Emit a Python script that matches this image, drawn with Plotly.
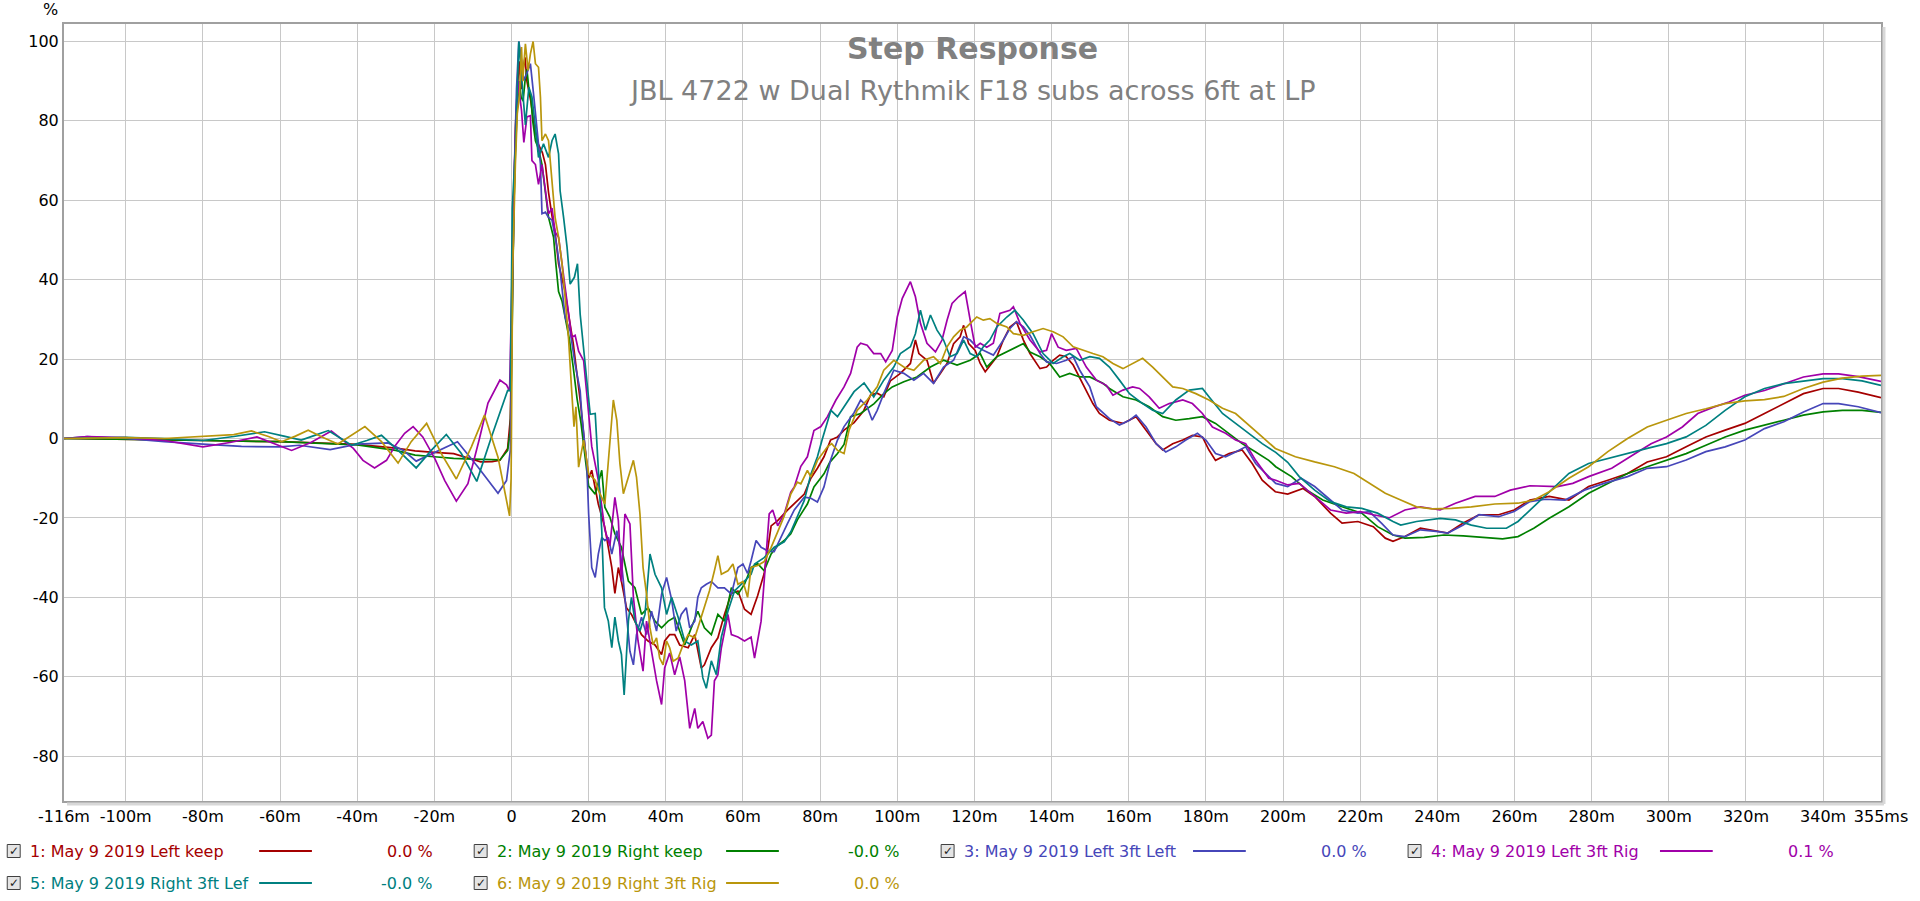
import plotly.graph_objects as go

# ---------------- data ----------------
T_RANGE = [-116, 355]
Y_RANGE = [-91.3, 104.4]

series_names = [
    "1: May 9 2019 Left keep",
    "2: May 9 2019 Right keep",
    "3: May 9 2019 Left 3ft Left",
    "4: May 9 2019 Left 3ft Rig",
    "5: May 9 2019 Right 3ft Lef",
    "6: May 9 2019 Right 3ft Rig",
]
series_colors = ["#a50000", "#008000", "#4646b9", "#a000a8", "#008080", "#b9960c"]
legend_values = ["0.0 %", "-0.0 %", "0.0 %", "0.1 %", "-0.0 %", "0.0 %"]

x_tick_vals = [-116, -100, -80, -60, -40, -20, 0, 20, 40, 60, 80, 100, 120, 140, 160,
               180, 200, 220, 240, 260, 280, 300, 320, 340, 355]
x_tick_text = ["-116m", "-100m", "-80m", "-60m", "-40m", "-20m", "0", "20m", "40m", "60m",
               "80m", "100m", "120m", "140m", "160m", "180m", "200m", "220m", "240m", "260m",
               "280m", "300m", "320m", "340m", "355ms"]
y_tick_vals = [-80, -60, -40, -20, 0, 20, 40, 60, 80, 100]
y_tick_text = ["-80", "-60", "-40", "-20", "0", "20", "40", "60", "80", "100"]

# (time ms, step %)
red_pts = [(-116,0),(-100,-0.3),(-80,-0.5),(-60,-0.8),(-50,-1.1),(-40,-1.5),(-30,-2.4),(-25,-3.1),(-20,-3.5),(-15,-3.8),(-10,-5.3),(-8,-5.9),(-5,-5.8),(-3,-5.5),(-1,-2.5),(-0.3,5),(0.2,35),(0.6,62),(1,78),(1.5,88),(2,95),(2.5,88),(3,93),(3.5,96),(4,90),(5,85),(6,78),(7,74),(8,72),(8.8,69),(9.6,62),(10.5,56),(11.3,52),(12.2,44),(13.1,40),(13.9,37),(15,30),(16,24),(17,16),(18,8),(19,-2),(20,-10),(20.8,-8),(22.5,-16.5),(24.2,-22.4),(26,-32.5),(26.8,-39),(27.7,-32.5),(28.5,-36),(29.8,-42.6),(31.1,-44.3),(32,-46),(33.7,-49.4),(35.4,-51),(37.2,-52),(38.9,-54.4),(39.7,-51),(41,-49.4),(42.3,-49.4),(43.6,-52),(45.8,-52.7),(47.5,-49.4),(49.2,-57.8),(50,-57),(51.8,-52.7),(53.5,-50.2),(55.2,-44.3),(57,-39),(58.7,-38.4),(60.4,-43),(62.1,-44.3),(63.8,-39.6),(65.5,-34),(67.3,-22),(69,-20.7),(71.6,-18),(74.1,-15.6),(75.9,-14),(77.6,-10),(79.3,-7.5),(81,-4.6),(82.7,-0.4),(84.5,0.4),(86.2,2.1),(88.8,4),(91.3,7),(93.1,11),(94.8,11.4),(96.5,10.5),(98.2,14.5),(100.8,16.4),(103.4,18.9),(104.7,24.8),(105.6,21.4),(107.7,19.7),(109.4,13.9),(111.2,16.4),(112.9,18.9),(114.6,23.9),(116.3,25.6),(117.2,28.5),(118.5,23.9),(120.2,22.2),(121.5,18.9),(122.8,16.8),(124.5,18.9),(125.8,20.6),(127.5,24.8),(129.2,28.1),(130.9,29.4),(132.7,24.8),(134.4,21.4),(137,17.6),(138.7,18),(140.4,19.7),(142.1,21),(143.8,20.6),(145.6,18.5),(148.1,13.9),(150.7,8.8),(152.4,6.3),(155,4.6),(158.5,3.8),(161.9,5.5),(164.5,2.1),(167.1,-1.3),(168.8,-2.9),(171.4,-1.3),(174,-0.4),(176.5,0.8),(179.1,0.4),(180.8,-2.9),(182.5,-5.5),(186,-3.8),(189.4,-2.9),(192,-6.3),(194.6,-10.5),(198,-13.4),(201.2,-14),(205.2,-12.6),(208.2,-14.6),(212.3,-18.8),(215.3,-21.3),(219.4,-20.9),(223.4,-22.2),(226.5,-25.1),(228.5,-25.9),(231.6,-24.7),(235.6,-22.6),(239.7,-23.4),(242.7,-23.8),(246.7,-21.3),(250.8,-19.2),(255.9,-19.2),(259.9,-18),(264,-15.5),(269,-14.6),(274.1,-15.5),(279.2,-12.1),(284.2,-10.5),(289.3,-8.8),(294.4,-5.9),(299.4,-4.6),(304.5,-2.1),(309.6,0.4),(314.6,2.1),(319.7,3.8),(324.8,6.3),(329.8,8.8),(334.9,11.3),(340,12.6),(344,12.6),(349.1,11.7),(355,10.3)]

green_pts = [(-116,0),(-100,-0.3),(-80,-0.5),(-60,-0.8),(-50,-1.2),(-40,-1.6),(-30,-3),(-25,-4.2),(-20,-4.6),(-15,-5),(-10,-5.2),(-5,-5.4),(-3,-5.4),(-1,-3),(-0.3,2),(0.2,30),(0.6,58),(1,72),(1.5,84),(2,90),(2.5,86),(3,85),(3.5,90),(4,93),(4.5,88),(5,86),(5.5,80),(6.2,75),(7,73),(7.9,69),(8.8,62),(9.6,55.7),(10.3,53),(10.9,50.7),(11.5,44),(12.2,37),(13.1,34.6),(14,30),(15,25),(16,18),(17,10),(18,4),(19,-4),(20,-12),(21.7,-14),(23.4,-8),(24.2,-17.3),(25.5,-19.8),(26.8,-24),(28.5,-27.4),(30.3,-35.9),(32,-37.6),(33.7,-44.3),(35.4,-42.6),(37.2,-46),(38.9,-47.7),(40.6,-46),(42.3,-45),(43.6,-48.5),(44.9,-52),(46.6,-47.7),(48.3,-43.5),(50,-47.7),(51.8,-49.4),(53.5,-44.3),(55.2,-46),(57,-37.6),(58.7,-39.2),(60.4,-36.7),(62.1,-32.5),(63.8,-31.5),(65.5,-33.3),(67.3,-29.1),(69,-27),(70.7,-25.7),(72.4,-24),(74.1,-20.5),(76.7,-16.5),(78.4,-12.2),(81,-8.9),(82.5,-6),(84.5,-3.8),(86.2,-1.5),(87.9,5.5),(90.5,6.3),(94,8.8),(96.5,11.3),(98.7,13),(101.7,14.3),(105.1,15.5),(108.6,18),(112,19.7),(115.5,18.5),(118.9,19.7),(121.5,21.4),(123.2,18),(125.8,20.6),(128.4,21.8),(130.9,23.1),(132.7,23.9),(134.4,21.8),(137,20.6),(139.5,18.9),(142.1,15.5),(144.7,16.4),(147.3,15.5),(149.9,15.5),(153.3,13.9),(155,12.6),(158.5,10.5),(161.9,9.7),(165.3,8),(168.8,5.5),(172.2,4.6),(175.7,5),(179.1,5.5),(182.5,3.8),(186,1.3),(189.4,-1.3),(192.9,-3.4),(196.3,-5.5),(198.1,-7.1),(202.2,-9.6),(206.2,-13),(210.3,-15.5),(215.3,-17.2),(220.4,-18.8),(224.5,-22.2),(228.5,-24.3),(231.6,-25.1),(236.6,-24.9),(241.7,-24.3),(246.7,-24.5),(251.8,-24.9),(256.9,-25.3),(260.9,-24.7),(265,-22.6),(269,-20.1),(274.1,-17.2),(279.2,-13.8),(284.2,-11.3),(289.3,-8.8),(294.4,-7.1),(299.4,-5.4),(304.5,-3.8),(309.6,-1.7),(314.6,0.4),(319.7,2.1),(324.8,3.3),(329.8,4.6),(334.9,5.9),(340,6.7),(345,7.1),(350.1,7.1),(355,6.6)]

blue_pts = [(-116,0),(-110,0.5),(-100,0),(-90,-0.8),(-80,-1.4),(-70,-2),(-60,-2.1),(-55,-1.7),(-47,-2.8),(-40,-1.4),(-32,-1.1),(-28,-3),(-24.7,-5.7),(-19,-3),(-14,-0.8),(-8.7,-7.2),(-3.5,-13.8),(-1.3,-10.6),(-0.3,-3),(0.3,40),(0.8,70),(1.3,88),(1.9,100),(2.5,96),(3.2,90.2),(4,92),(4.9,94.4),(5.8,86),(6.6,77.6),(7.5,69.2),(7.9,56.6),(8.8,57),(9.6,55.7),(10.5,55),(11.8,48.2),(12.6,42.3),(13.9,30.5),(15.2,27.1),(16.5,18.7),(17.8,12),(18.2,6.3),(19.5,-6.3),(20,-19),(20.8,-32.5),(21.7,-35),(22.5,-29.1),(23.4,-24.9),(24.2,-25.7),(25.1,-24.9),(26,-29.1),(27.3,-23.2),(28.1,-27.4),(29,-35.9),(29.8,-44.3),(30.7,-53.6),(31.6,-57),(32.4,-49.4),(33.7,-45),(35,-49.4),(36.3,-43.5),(37.6,-48.5),(38.9,-39.2),(40.2,-35),(41.5,-40.5),(42.7,-48.5),(44,-44.3),(45.3,-42.6),(46.2,-47.7),(47.5,-46),(48.3,-40),(49.2,-37.6),(50.5,-36.7),(51.8,-36),(53.5,-37.6),(55.2,-37.6),(57,-39.2),(58.7,-32.5),(60,-31.6),(61.2,-34),(62.1,-30.8),(63.4,-25.7),(64.7,-27.4),(66.4,-28.3),(68.1,-28.5),(69.8,-24.9),(71.5,-21.5),(73.3,-18),(75.9,-14.8),(77.5,-15),(79.3,-16),(81,-12.2),(82.7,-5.5),(84.5,-0.4),(86.2,3),(88.8,6.5),(90.5,9.7),(92.2,8),(93.5,4.6),(94.8,7.1),(96.5,11.3),(99.1,17.2),(101.7,16.4),(104.3,14.7),(106.8,16.4),(109.4,13.9),(112,18),(114.6,19.7),(117.2,25.6),(118.9,24.8),(120.6,23.1),(122.3,22.2),(124.9,21),(127.5,24.8),(129.2,27.7),(130.9,29.4),(132.7,28.1),(134.4,26),(137,21.4),(138.7,19.3),(141.3,18.9),(143.8,19.7),(145.6,20.6),(147.3,17.2),(149.9,13),(151.6,8),(155,5),(157.6,3.4),(160.2,4.6),(161.9,5.9),(164.5,2.9),(167.1,-1.3),(169.6,-3.4),(172.2,-2.1),(174.8,-0.4),(177.8,1.3),(180,-0.4),(182.5,-3.8),(185.1,-4.6),(187.7,-3.4),(190.3,-2.1),(192.9,-6.3),(196.3,-9.7),(198.1,-11.3),(201.2,-12.1),(204.7,-10),(208.2,-12.1),(212.3,-15.5),(215.3,-18),(219.4,-18.8),(222.4,-18.4),(225.5,-21.3),(228.5,-24.3),(231.6,-24.7),(235.6,-23),(239.7,-23.4),(242.7,-23.8),(246.7,-21.8),(250.8,-19.2),(255.9,-19.7),(259.9,-18.4),(264,-15.9),(268,-15.3),(273.1,-15.5),(278.1,-13),(283.2,-11.3),(289.3,-9.6),(294.4,-7.5),(299.4,-7.1),(304.5,-5.4),(309.6,-3.3),(314.6,-2.1),(319.7,-0.4),(324.8,2.5),(329.8,4.2),(334.9,6.7),(340,8.8),(344,8.8),(349.1,8),(355,6.5)]

magenta_pts = [(-116,0),(-110,0.5),(-100,0.2),(-90,-0.5),(-80,-2.1),(-73,-1),(-66,0.4),(-61,-1.5),(-57,-3),(-52,-1),(-46.7,1.9),(-41,-2.5),(-38.5,-5.5),(-35.5,-7.4),(-32.4,-5.5),(-30.3,-2),(-27.7,1.3),(-25.5,3),(-23,0.4),(-19.9,-5),(-17.3,-10.6),(-14.3,-15.8),(-11.3,-11.4),(-8.3,0),(-6.1,8.9),(-3,14.7),(-1.3,13.5),(-0.5,12),(0.3,50),(0.8,70),(1.3,82),(1.8,90),(2.3,85),(2.6,82.6),(3.2,74.6),(4,81),(4.9,81.3),(5.3,70),(6.2,69),(7,64),(7.9,69),(8.8,62),(9.6,56.6),(10.5,58),(11.3,52),(12.2,50.7),(13.1,44),(13.9,37),(14.8,30),(15.6,25.5),(16.5,26),(17.4,22),(18.7,19.6),(19.5,12),(20.8,-2),(22.5,-10.5),(24.2,-23),(25.5,-27),(26.8,-14.8),(27.7,-20.7),(28.5,-36),(29.4,-19),(30.7,-21.5),(31.6,-40),(32.8,-51),(34.1,-58.6),(35,-46),(36.3,-53.6),(37.6,-61),(38.9,-67),(39.7,-57.8),(41,-54),(42.3,-59.5),(43.6,-55),(44.9,-61),(46.2,-73),(47.5,-68),(48.3,-73),(49.6,-71.3),(50.9,-75.5),(51.8,-74.7),(52.6,-61),(53.5,-59.5),(54.4,-52.7),(56.1,-44.3),(57,-49.4),(58.7,-50),(60.4,-51),(62.1,-50),(63,-55.3),(63.8,-51),(64.7,-46),(65.5,-35.9),(66.8,-19),(67.7,-18),(68.5,-20.7),(69,-22),(70.7,-19),(72.4,-13.5),(73.3,-12.2),(75,-7),(76.7,-4.6),(78.4,2),(80.2,3),(81.9,5.5),(84.1,9.7),(86.2,13),(87.9,16.4),(89.6,23),(90.5,24),(92.2,23.5),(93.9,21.4),(95.7,21.4),(97,19.3),(98.7,22.2),(100,30.6),(101.3,35.3),(103.4,39.5),(104.7,35.7),(106,29),(107.7,24),(109.9,21.8),(111.6,24.8),(112.9,29.8),(114.2,34),(115.9,35.7),(117.6,37),(118.9,29.8),(120.2,23),(121.5,24),(123.2,23),(124.9,24),(126.6,31.5),(129.2,32.3),(130.1,33.2),(131.8,29),(134.4,24.8),(137,21.8),(138.7,22.2),(140,26.4),(141.7,23),(143.8,22.2),(146.4,22.7),(149,18),(151.6,14.7),(154.2,13.4),(155.9,10.9),(158.5,12.2),(161,13),(162.8,12.6),(165.3,10.5),(167.9,7.6),(170.5,8.8),(174,9.7),(176.5,8.8),(179.1,6.3),(181.7,2.9),(185.1,1.3),(187.7,-0.4),(190.3,-1.3),(192.9,-5.5),(196.3,-10),(198.1,-10.5),(201.2,-11.7),(204.2,-11.3),(208.2,-14.6),(212.3,-18),(216.4,-18.8),(220,-18.4),(223.4,-19.2),(227.5,-20),(231.6,-18),(235.6,-17.2),(240.7,-18),(244.7,-16.3),(249.8,-14.6),(254.9,-14.6),(258.9,-13),(264,-11.9),(271.1,-12.1),(275.1,-11.3),(279.2,-9.6),(285.2,-7.5),(291.3,-3.8),(295.4,-1.3),(299.4,0.4),(303.5,2.9),(307.5,6.3),(311.6,7.9),(315.6,9.2),(319.7,10.9),(324.8,12.1),(329.8,13.8),(334.9,15.5),(340,16.3),(344,16.3),(349.1,15.6),(355,14.4)]

teal_pts = [(-116,0),(-100,0.3),(-90,0),(-80,-0.5),(-72,0.5),(-64,1.7),(-59,0.6),(-54.5,-0.4),(-51,0.8),(-47.5,2),(-44.5,0.2),(-41.5,-1.7),(-37.5,-0.5),(-33.7,0.8),(-28.5,-3.8),(-24.7,-7.4),(-20.8,-3),(-16.9,1),(-13,-3.8),(-9,-10.8),(-5.2,0.4),(-2.6,8),(-1,12.1),(-0.3,12),(0.2,58),(1,73),(1.9,100),(2.7,90),(3.6,79),(4.5,88.5),(5.3,86),(6.2,78.4),(7,70.8),(8.3,74.2),(9.6,70.8),(10.5,75),(11.3,76.7),(12.2,71.7),(12.6,62.4),(13.5,55.7),(14.4,48.2),(15.2,38.9),(16.3,40.6),(17.1,44),(17.8,31.3),(19.1,18.7),(20.4,6.1),(21.7,6.3),(22.5,-6.3),(23.4,-23.2),(24.1,-42.6),(25.1,-46),(26,-52.7),(26.8,-45),(27.7,-51),(28.5,-54.4),(29.2,-64.6),(30.3,-46),(31.1,-40),(32,-46),(33.3,-48.5),(34.6,-44.3),(35.9,-29.1),(37.2,-34.2),(38.9,-37.6),(40.2,-44.3),(41.5,-40),(43.2,-45),(44.9,-51),(46.6,-52),(48.3,-51),(49.6,-60.3),(50.5,-62.9),(51.8,-56),(53.1,-59.5),(54.4,-50),(56.1,-43.5),(57.8,-38.4),(60.4,-35.9),(62.1,-34.2),(63,-31.6),(65.5,-30),(68.1,-27.4),(70.7,-26),(72.4,-23.5),(74.1,-19.5),(75.9,-15.6),(77.6,-9),(79.3,-4.6),(80.5,-0.4),(81.5,3),(82.8,7.1),(84.5,5.5),(86.2,8),(88.8,11.8),(91.4,14),(93.9,10.5),(96.5,14.7),(99.1,18),(100.8,21.4),(103.4,23.1),(104.7,26.4),(106,32.3),(107.3,27.3),(108.6,31.1),(110.3,27.3),(112,24.8),(113.7,20.6),(115.5,21.4),(117.2,24.8),(118.9,21.4),(120.6,20.6),(122.3,23.1),(124,24.8),(125.8,28.1),(128.4,30.6),(130.5,32.3),(132.7,29.8),(135.2,26.4),(137.8,21.4),(140.4,18.9),(143,20.6),(144.7,21.4),(147.3,19.7),(149.9,20.6),(152.4,20.2),(155,18),(157.6,14.7),(160.2,11.3),(163.6,8.8),(166.2,7.1),(168.8,6.3),(172.2,9.7),(175.7,12.2),(179.1,12.6),(180.8,10.5),(184.3,6.3),(187.7,3.8),(191.2,1.3),(194.6,-1.3),(198.1,-3.5),(201.2,-6),(204.2,-9.6),(208.2,-13),(212.3,-15.9),(216.4,-17.2),(220.4,-17.6),(224.5,-18.8),(228.5,-20.9),(230.5,-21.8),(234.6,-20.9),(240.7,-20.1),(244.7,-20.5),(248.8,-21.8),(252.8,-22.6),(257.9,-22.6),(260.9,-20.9),(265,-17.2),(269,-13.4),(274.1,-8.8),(279.2,-6.3),(284.2,-5),(289.3,-3.8),(294.4,-2.5),(299.4,-1.3),(304.5,0.4),(309.6,3.3),(314.6,7.1),(319.7,10.5),(324.8,12.6),(329.8,13.8),(334.9,14.5),(340,15.1),(345,15.1),(350.1,14.5),(355,13.4)]

gold_pts = [(-116,0),(-100,0.2),(-90,0),(-80,0.5),(-72,1),(-67.4,1.9),(-63,0.5),(-59.6,-0.8),(-56,0.6),(-52.7,2.1),(-49,0.3),(-45,-1.4),(-41.5,0.8),(-38,3),(-33.7,-0.8),(-29.4,-6.2),(-26,-0.8),(-22,3.8),(-18.2,-3.8),(-14.3,-10.2),(-10.4,-2.1),(-7,5.9),(-3.5,-4.7),(-1,-17),(-0.5,-19.5),(-0.1,-10),(0.3,42.3),(1,69),(1.5,81.8),(2.05,86),(2.6,98.6),(2.9,90),(3.6,99.4),(4.3,92.7),(4.9,96.9),(5.6,100),(6.2,94.4),(7,93.5),(7.5,86),(7.9,75),(8.8,76.7),(9.6,75),(10.5,65),(11.3,55.7),(12.2,50.7),(13.1,44),(13.9,35.5),(14.8,25),(15.6,12),(16.2,3),(16.7,8),(17.4,-7.2),(18.7,-0.4),(20,-8.9),(21.7,-10.5),(22.5,-13),(24.2,-16.5),(25.5,-2.1),(26.4,9.7),(27.3,4.6),(28.1,-6.3),(29,-13.9),(29.8,-11.4),(30.7,-8),(31.6,-5.5),(32.4,-9.7),(33.3,-19),(34.1,-32.5),(35,-39.2),(35.9,-47.7),(36.7,-51.9),(37.6,-50.2),(38.4,-55.3),(39.3,-57),(40.2,-51),(41,-52.7),(41.9,-56.1),(43.2,-55.3),(44.5,-51.9),(45.8,-49.4),(47.5,-50.2),(48.3,-47.7),(49.2,-45),(50,-42),(51.3,-38.4),(52.6,-33.3),(53.5,-29.5),(54.4,-34.2),(56.1,-33.3),(57.4,-31.6),(58.7,-36.7),(60,-36),(61.2,-40),(62.1,-32.5),(63.8,-32),(65.5,-31),(67.3,-27.4),(69,-23.5),(70.7,-19.5),(72.4,-14),(74.1,-11),(75,-11.4),(76.7,-8),(77.6,-9.7),(79.3,-5.5),(81.9,-2.1),(83,-1.3),(84.5,-3),(86.2,-3.8),(87.5,2.1),(89.6,7.1),(92.2,9.7),(94.8,13),(96.5,17.2),(99.1,19.7),(101.7,18),(104.3,17.2),(106.8,19.7),(109.4,20.6),(111.2,18.9),(112.9,23.1),(114.6,25.6),(116.3,27.3),(118,28.1),(120.6,30.6),(122.3,29.8),(124,30.2),(125.8,29),(128.4,28.1),(130.1,26.4),(132.7,26),(135.2,26.9),(137.8,27.7),(140.4,26.9),(143,25.6),(145.6,23.1),(148.1,22.2),(150.7,21.4),(153.3,20.6),(155.9,18.9),(158.5,17.6),(161,18.9),(163.6,20.2),(166.2,18),(168.8,15.5),(171.4,13),(174,12.6),(177.4,11.3),(180.8,9.7),(184.3,7.6),(187.7,6.3),(191.2,3.4),(194.6,0.4),(198,-2.5),(201.5,-4),(203.2,-4.6),(208.2,-5.9),(213.3,-7.1),(218.4,-8.8),(222.4,-11.3),(226.5,-13.8),(230.5,-15.5),(234.6,-17.2),(238.6,-17.7),(243.7,-17.6),(248.8,-17.2),(254.9,-16.5),(260.9,-16.3),(265,-15.5),(269,-13.4),(274.1,-10),(279.2,-7.1),(284.2,-3.3),(289.3,0),(294.4,2.9),(299.4,4.6),(304.5,6.3),(309.6,7.5),(314.6,8.8),(319.7,9.5),(324.8,9.8),(329.8,10.6),(334.9,12.6),(340,14.2),(345,15.2),(350.1,15.7),(355,15.9)]

all_series = [red_pts, green_pts, blue_pts, magenta_pts, teal_pts, gold_pts]

# ---------------- figure ----------------
W, H = 1920, 901
ML, MR, MT, MB = 64, 31, 24, 100
FONT = "DejaVu Sans"

fig = go.Figure()
for pts, name, col in zip(all_series, series_names, series_colors):
    fig.add_trace(go.Scatter(
        x=[p[0] for p in pts], y=[p[1] for p in pts], mode="lines", name=name,
        line=dict(color=col, width=1.7), hoverinfo="skip"))

def px_x(px):
    return (px - ML) / (W - ML - MR)

def px_y(py):
    return (H - MB - py) / (H - MT - MB)

annotations = [
    dict(text="<b>Step Response</b>", x=px_x(976), y=px_y(48), xref="paper", yref="paper",
         xanchor="center", yanchor="middle", showarrow=False,
         font=dict(family=FONT, size=30, color="#808080")),
    dict(text="JBL 4722 w Dual Rythmik F18 subs across 6ft at LP", x=px_x(977), y=px_y(90),
         xref="paper", yref="paper", xanchor="center", yanchor="middle", showarrow=False,
         font=dict(family=FONT, size=27, color="#808080")),
    dict(text="%", x=px_x(60), y=px_y(9), xref="paper", yref="paper", xanchor="right",
         yanchor="middle", showarrow=False, font=dict(family=FONT, size=16, color="black")),
]
shapes = []
for i, (name, col, val) in enumerate(zip(series_names, series_colors, legend_values)):
    row, c = divmod(i, 4)
    x0 = 13 + 469 * c
    yc = 851 + 32 * row
    # checkbox
    shapes.append(dict(type="rect", xref="paper", yref="paper",
                       x0=px_x(x0 - 6), x1=px_x(x0 + 7), y0=px_y(yc + 6.5), y1=px_y(yc - 6.5),
                       fillcolor="#e4e4e4", line=dict(color="#404040", width=1)))
    annotations.append(dict(text="\u2713", x=px_x(x0 + 0.5), y=px_y(yc), xref="paper", yref="paper",
                            xanchor="center", yanchor="middle", showarrow=False,
                            font=dict(family=FONT, size=12, color="#202020")))
    annotations.append(dict(text=name, x=px_x(x0 + 15), y=px_y(yc), xref="paper", yref="paper",
                            xanchor="left", yanchor="middle", showarrow=False,
                            font=dict(family=FONT, size=16, color=col)))
    annotations.append(dict(text=val, x=px_x(x0 + 424), y=px_y(yc), xref="paper", yref="paper",
                            xanchor="right", yanchor="middle", showarrow=False,
                            font=dict(family=FONT, size=16, color=col)))
    shapes.append(dict(type="line", xref="paper", yref="paper", x0=px_x(x0 + 247),
                       x1=px_x(x0 + 300), y0=px_y(yc), y1=px_y(yc),
                       line=dict(color=col, width=2)))

# soft shadow on the right/bottom of the frame
shapes.append(dict(type="line", xref="paper", yref="paper", x0=px_x(ML + 3), x1=px_x(W - MR + 3),
                   y0=px_y(H - MB + 3), y1=px_y(H - MB + 3), line=dict(color="#d8d8d8", width=3)))
shapes.append(dict(type="line", xref="paper", yref="paper", x0=px_x(W - MR + 3), x1=px_x(W - MR + 3),
                   y0=px_y(MT + 3), y1=px_y(H - MB + 3), line=dict(color="#d8d8d8", width=3)))

axis_common = dict(showgrid=True, gridcolor="#c8c8c8", gridwidth=1, zeroline=False,
                   showline=True, mirror=True, linecolor="#a0a0a0", linewidth=2, ticks="",
                   tickfont=dict(family=FONT, size=16, color="black"), fixedrange=True)

fig.update_layout(
    width=W, height=H, autosize=False,
    margin=dict(l=ML, r=MR, t=MT, b=MB, pad=0),
    paper_bgcolor="white", plot_bgcolor="white",
    showlegend=False,
    xaxis=dict(range=T_RANGE, tickmode="array", tickvals=x_tick_vals, ticktext=x_tick_text, **axis_common),
    yaxis=dict(range=Y_RANGE, tickmode="array", tickvals=y_tick_vals, ticktext=y_tick_text, **axis_common),
    annotations=annotations,
    shapes=shapes,
)

fig.write_html("out.html", config={"displayModeBar": False},
               post_script="document.body.style.margin='0';document.body.style.overflow='hidden';")
